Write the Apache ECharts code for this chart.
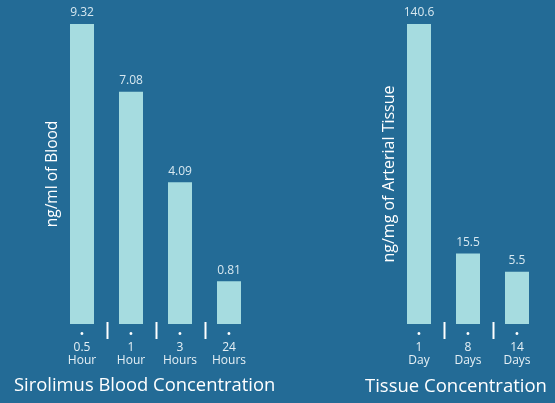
<!DOCTYPE html>
<html><head><meta charset="utf-8">
<script src="https://cdn.jsdelivr.net/npm/echarts@6/dist/echarts.min.js"></script>
<style>html,body{margin:0;padding:0;background:#236b96;}#c{width:555px;height:403px;}</style>
</head><body><div id="c"></div>
<script>
const bloodCats = ['0.5\nHour', '1\nHour', '3\nHours', '24\nHours'];
const bloodVals = [9.32, 7.08, 4.09, 0.81];
const tissueCats = ['1\nDay', '8\nDays', '14\nDays'];
const tissueVals = [140.6, 15.5, 5.5];
const bloodTitle = 'Sirolimus Blood Concentration';
const tissueTitle = 'Tissue Concentration';
const bloodAxisName = 'ng/ml of Blood';
const tissueAxisName = 'ng/mg of Arterial Tissue';
const bloodMin = -0.6, tissueMin = -23;

const FONT = 'Open Sans';
const BAR = '#a6dce0';
const chart = echarts.init(document.getElementById('c'));
function xAx(idx, cats) {
  return {
    type: 'category', gridIndex: idx, data: cats,
    axisLine: { show: false, onZero: false },
    axisTick: { show: false },
    axisLabel: {
      interval: 0, margin: 4,
      formatter: function (v) { return '{d|•}\n' + v; },
      color: '#e6f0f5', fontFamily: FONT, fontSize: 12, lineHeight: 13,
      rich: { d: { fontSize: 13, color: '#ffffff', lineHeight: 13 } }
    }
  };
}
function yAx(idx, min, max, name, gap, size) {
  return {
    type: 'value', gridIndex: idx, min: min, max: max,
    axisLine: { show: false }, axisTick: { show: false }, axisLabel: { show: false },
    splitLine: { show: false },
    name: name, nameLocation: 'middle', nameGap: gap, nameRotate: 90,
    nameTextStyle: { color: '#ffffff', fontFamily: FONT, fontSize: size }
  };
}
function barSeries(idx, vals, minV) {
  return {
    type: 'custom', xAxisIndex: idx, yAxisIndex: idx, clip: false,
    data: vals.map(function (v, i) { return [i, v]; }),
    encode: { x: 0, y: 1 },
    renderItem: function (params, api) {
      const top = api.coord([api.value(0), api.value(1)]);
      const base = api.coord([api.value(0), minV]);
      const band = api.size([1, 0])[0];
      const w = 24;
      const children = [{
        type: 'rect',
        shape: { x: top[0] - w / 2, y: top[1], width: w, height: base[1] - top[1] },
        style: { fill: BAR },
        textContent: { style: { text: String(api.value(1)), fill: '#d7e8f0', fontFamily: FONT, fontSize: 12 } },
        textConfig: { position: 'top', distance: 5 }
      }];
      if (params.dataIndex > 0) {
        const sx = Math.round(top[0] - band / 2) + 0.5;
        children.push({
          type: 'line',
          shape: { x1: sx, y1: base[1] - 2, x2: sx, y2: base[1] + 15 },
          style: { stroke: '#ffffff', lineWidth: 2 }
        });
      }
      return { type: 'group', children: children };
    }
  };
}
chart.setOption({
  backgroundColor: '#236b96',
  animation: false,
  title: [
    { text: bloodTitle, left: 14, top: 377, padding: 0, textStyle: { color: '#ffffff', fontFamily: FONT, fontSize: 18.4, fontWeight: 'normal' } },
    { text: tissueTitle, left: 365, top: 377, padding: 0, textStyle: { color: '#ffffff', fontFamily: FONT, fontSize: 18.5, fontWeight: 'normal' } }
  ],
  grid: [
    { left: 57.5, width: 196, top: 24, height: 300, outerBoundsMode: 'none', containLabel: false },
    { left: 394.5, width: 147, top: 24, height: 300, outerBoundsMode: 'none', containLabel: false }
  ],
  xAxis: [xAx(0, bloodCats), xAx(1, tissueCats)],
  yAxis: [yAx(0, bloodMin, 9.32, bloodAxisName, -3, 15.5), yAx(1, tissueMin, 140.6, tissueAxisName, -3, 16)],
  series: [barSeries(0, bloodVals, bloodMin), barSeries(1, tissueVals, tissueMin)]
});
</script></body></html>
